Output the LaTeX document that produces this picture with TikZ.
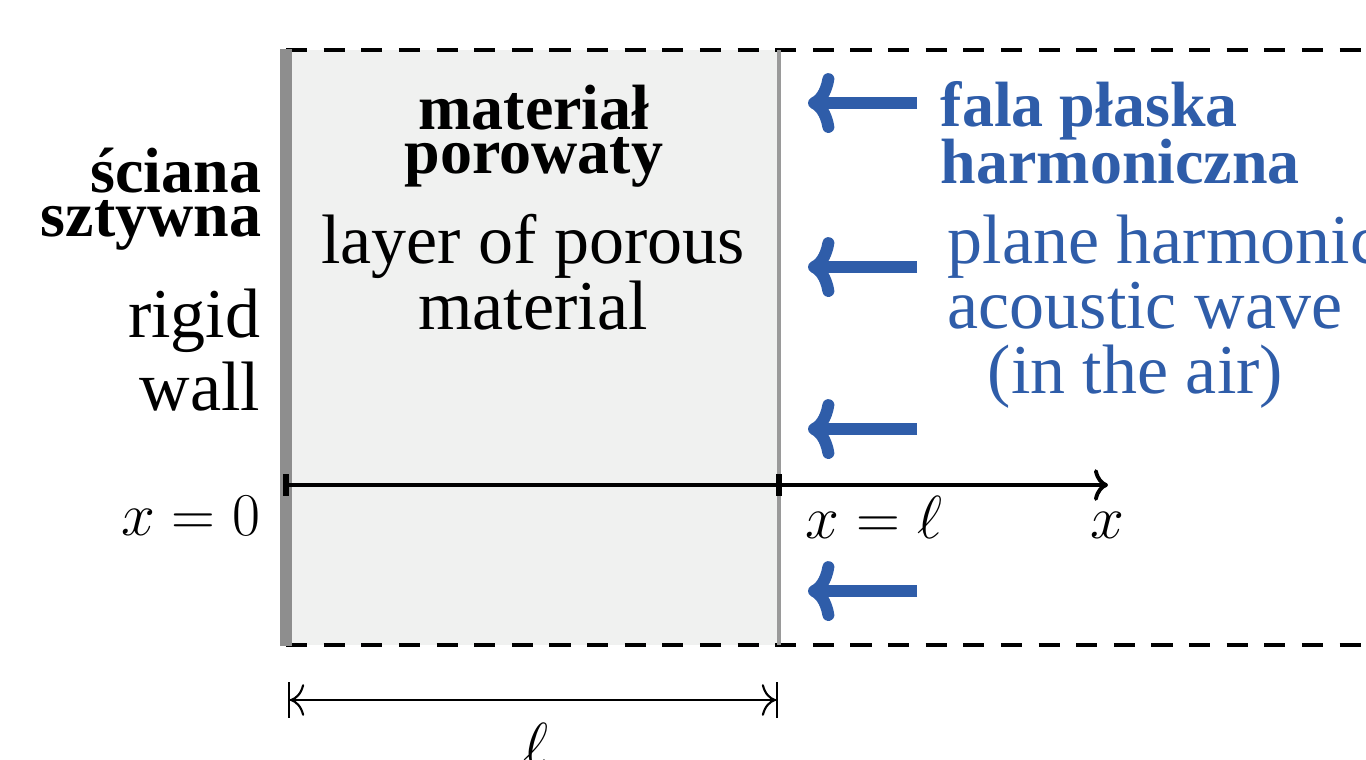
\documentclass[tikz,border=0pt]{standalone}
\usepackage[no-math]{fontspec}
\setmainfont{Liberation Serif}
\usetikzlibrary{arrows.meta}
\definecolor{wblue}  {HTML}{2F5DA9}
\definecolor{wallgr} {HTML}{8E8E8E}
\definecolor{edgegr} {HTML}{9A9A9A}
\definecolor{porefl} {HTML}{F0F1F0}
\lineskiplimit=-20pt

\begin{document}
\begin{tikzpicture}[x=0.01cm, y=-0.01cm,
  plb/.style  = {inner sep=0pt, align=center,
                 font=\fontsize{18.2}{12.5}\selectfont\bfseries},
  eng/.style  = {inner sep=0pt, align=center,
                 font=\fontsize{19.9}{18.5}\selectfont},
  mth/.style  = {inner sep=0pt, font=\fontsize{16.5}{20}\selectfont},
  wav/.style  = {-{To[length=7.5pt, width=17pt, round]}, line width=3.4pt, color=wblue},
  ax/.style   = {-{To[length=4pt, width=9pt]}, line width=1.1pt},
  tk/.style   = {line width=1.7pt},
  dm/.style   = {{Bar[width=10pt]To[length=4pt, width=9pt]}-{To[length=4pt, width=9pt]Bar[width=10pt]},
                 line width=0.6pt},
  dsh/.style  = {line width=1.3pt, dash pattern=on 6pt off 4.7pt}
]
\useasboundingbox (0,0) rectangle (1366,759);
\clip (0,0) rectangle (1366,759);

% porous layer, wall and air region
\fill[porefl] (286,50) rectangle (779,645);
\draw[dsh] (286,50) -- (1366,50);
\draw[dsh] (286,645) -- (1366,645);
\draw[edgegr, line width=1.1pt] (779,50) -- (779,645);
\fill[wallgr] (280,49) rectangle (292,646);

% x axis
\coordinate (o)  at (286,485);
\coordinate (xl) at (779,485);
\coordinate (xe) at (1108,485);
\draw[ax] (o) -- (xe);
\draw[tk] (o)  +(0,-11) -- +(0,11);
\draw[tk] (xl) +(0,-11) -- +(0,11);

% thickness
\coordinate (d0) at (288,700);
\coordinate (d1) at (778,700);
\draw[dm] (d0) -- (d1);

% incoming wave
\coordinate (t1) at (917,103);  \coordinate (h1) at (808,103);
\coordinate (t2) at (917,267);  \coordinate (h2) at (808,267);
\coordinate (t3) at (917,429);  \coordinate (h3) at (808,429);
\coordinate (t4) at (917,591);  \coordinate (h4) at (808,591);
\draw[wav] (t1) -- (h1);
\draw[wav] (t2) -- (h2);
\draw[wav] (t3) -- (h3);
\draw[wav] (t4) -- (h4);

% labels
\node[plb, anchor=north] (matpl) at (534,84) {materiał\\porowaty};
\node[eng, anchor=north] (mateng) at (533,214) {layer of porous\\material};
\node[plb, anchor=north east, align=right] (wallpl) at (262,147) {ściana\\sztywna};
\node[eng, anchor=north east, align=right, font=\fontsize{19.9}{20.8}\selectfont]
  (walleng) at (261,288) {rigid\\wall};
\node[plb, anchor=north west, align=left, text=wblue, font=\fontsize{18.2}{16.2}\selectfont\bfseries]
  (wavpl) at (940,81) {fala płaska\\harmoniczna};
\node[eng, anchor=north west, align=left, text=wblue]
  (waveng) at (947,214) {plane harmonic\\acoustic wave\\\hspace*{0.4cm}(in the air)};
\node[mth, anchor=base east] (x0) at (261,535) {$x=0$};
\node[mth, anchor=base west] (xl0) at (805,538) {$x=\ell$};
\node[mth, anchor=base west] (xlab) at (1090,538) {$x$};
\node[mth, anchor=base] (ell) at (536,765) {$\ell$};
\end{tikzpicture}
\end{document}
